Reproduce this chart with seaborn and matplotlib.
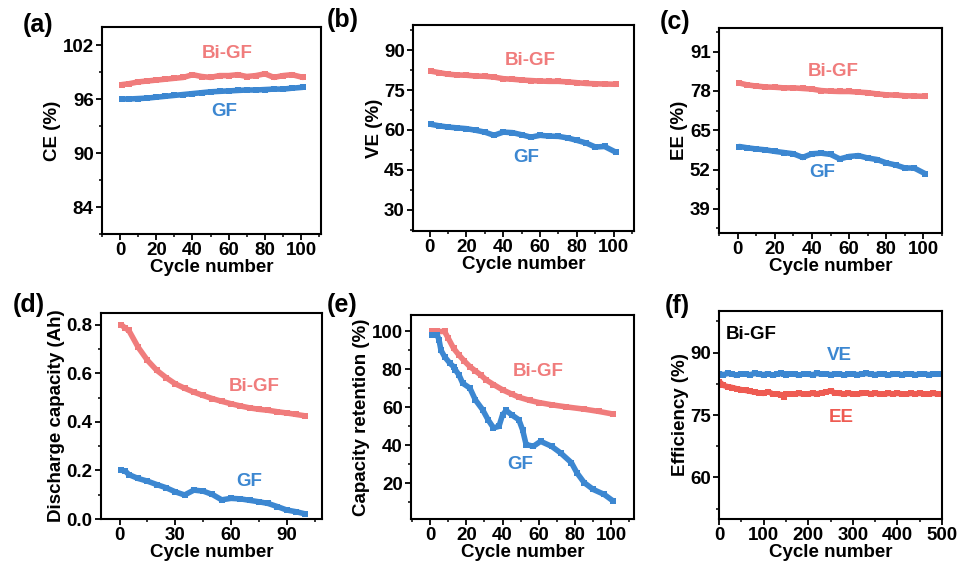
"""
Six-panel cycling performance figure (CE, VE, EE, capacity, retention, long-term efficiency)
"""
import matplotlib

matplotlib.use("Agg")
import matplotlib.pyplot as plt
from matplotlib.ticker import MultipleLocator
import seaborn as sns

sns.set_theme(style="ticks")
plt.rcParams["font.family"] = ["Liberation Sans", "DejaVu Sans"]
plt.rcParams["font.weight"] = "bold"
plt.rcParams["axes.labelweight"] = "bold"
plt.rcParams["text.color"] = "black"
plt.rcParams["axes.labelcolor"] = "black"
plt.rcParams["xtick.color"] = "black"
plt.rcParams["ytick.color"] = "black"

RED = "#F07C7C"
BLUE = "#3C87D1"
RED_F = "#EE5B52"

# --- data ---
cyc = [1, 5, 10, 15, 20, 25, 30, 35, 40, 45, 50, 55, 60, 65, 70, 75, 80, 85, 90, 95, 101]

ce_bigf = [97.6, 97.7, 97.9, 98.0, 98.1, 98.2, 98.3, 98.4, 98.7, 98.5, 98.4,
           98.6, 98.6, 98.7, 98.5, 98.6, 98.8, 98.4, 98.6, 98.7, 98.4]
ce_gf = [96.0, 96.0, 96.05, 96.1, 96.2, 96.3, 96.4, 96.5, 96.6, 96.7, 96.8,
         96.85, 96.9, 96.95, 97.0, 97.0, 97.05, 97.1, 97.1, 97.2, 97.3]

ve_bigf = [82.1, 81.6, 81.0, 80.7, 80.6, 80.3, 80.2, 79.9, 79.3, 79.1, 78.8,
           78.6, 78.4, 78.3, 78.3, 78.1, 77.8, 77.5, 77.4, 77.3, 77.2]
ve_gf = [62.1, 61.6, 61.1, 60.8, 60.5, 59.9, 59.2, 58.0, 59.2, 59.0, 58.2,
         57.3, 58.0, 57.7, 57.6, 57.0, 56.1, 55.1, 53.6, 53.8, 51.7]

ee_bigf = [80.6, 80.0, 79.6, 79.3, 79.2, 79.0, 79.0, 78.8, 78.6, 78.1, 77.9,
           77.8, 77.8, 77.6, 77.4, 77.0, 76.7, 76.6, 76.4, 76.3, 76.2]
ee_gf = [59.6, 59.2, 58.8, 58.5, 58.0, 57.6, 57.2, 56.0, 57.2, 57.4, 57.0,
         55.5, 56.3, 56.6, 55.8, 55.3, 54.2, 53.5, 52.5, 52.5, 50.6]

cyc_d = [1, 3, 5, 10, 15, 20, 25, 30, 35, 40, 45, 50, 55, 60, 65, 70, 75, 80, 85, 90, 95, 100]
cap_bigf = [0.800, 0.787, 0.777, 0.708, 0.654, 0.613, 0.583, 0.557, 0.539, 0.523, 0.509,
            0.496, 0.485, 0.475, 0.466, 0.458, 0.452, 0.448, 0.442, 0.437, 0.431, 0.425]
cap_gf = [0.201, 0.198, 0.183, 0.167, 0.156, 0.142, 0.129, 0.112, 0.099, 0.119, 0.115,
          0.101, 0.079, 0.085, 0.083, 0.077, 0.071, 0.064, 0.051, 0.037, 0.030, 0.021]

cyc_e_bigf = [1, 4, 8, 10, 13, 16, 19, 22, 25, 28, 31, 35, 40, 45, 49, 55, 60, 67, 75, 85, 93, 101]
ret_bigf = [100, 100, 100, 96.5, 91.1, 87.5, 84.3, 81.4, 79.2, 77.0, 74.4, 72.0, 69.2,
            67.0, 65.3, 63.6, 62.5, 61.3, 60.2, 59.0, 57.8, 56.4]
cyc_e_gf = [1, 4, 5, 6, 8, 11, 13, 14, 16, 18, 22, 25, 29, 32, 35, 38, 40, 42, 45, 49,
            51, 53, 57, 61, 67, 72, 78, 81, 85, 90, 96, 101]
ret_gf = [98.1, 98.1, 95.4, 90.2, 86.7, 83.2, 81.4, 79.7, 77.0, 72.7, 70.1, 63.9, 58.7,
          53.4, 49.1, 49.9, 56.0, 58.3, 56.0, 53.4, 48.2, 40.3, 39.4, 42.0, 39.4, 35.9,
          30.7, 25.4, 20.2, 16.6, 14.0, 10.5]

cyc_f = [1, 10, 20, 30, 40, 50, 60, 70, 80, 90, 100, 110, 120, 130, 140, 145, 150, 160,
         170, 180, 190, 200, 210, 220, 230, 240, 250, 260, 270, 280, 290, 300, 310, 320,
         330, 340, 350, 360, 370, 380, 390, 400, 410, 420, 430, 440, 450, 460, 470, 480,
         490, 500]
f_ve = [84.9, 84.7, 85.0, 84.8, 84.6, 84.9, 84.8, 84.7, 85.0, 84.8, 84.7, 84.9, 84.6,
        84.8, 85.0, 84.8, 84.7, 84.9, 84.8, 84.6, 84.9, 84.8, 84.7, 85.0, 84.8, 84.9,
        84.7, 84.8, 84.9, 84.6, 84.8, 84.9, 84.7, 84.8, 85.0, 84.8, 84.7, 84.9, 84.8,
        84.6, 84.8, 84.9, 84.7, 84.8, 84.9, 84.7, 84.8, 84.9, 84.7, 84.8, 84.8, 84.8]
f_ee = [83.0, 82.1, 81.8, 81.6, 81.3, 81.1, 80.9, 80.7, 80.5, 80.3, 80.2, 80.6, 80.1,
        80.0, 79.9, 79.4, 80.1, 80.0, 80.1, 80.2, 80.0, 80.1, 80.2, 80.1, 80.3, 80.5,
        80.8, 80.3, 80.2, 80.1, 80.2, 80.1, 80.0, 80.2, 80.3, 80.1, 80.2, 80.1, 80.0,
        80.2, 80.1, 80.2, 80.1, 80.0, 80.2, 80.1, 80.2, 80.1, 80.0, 80.2, 80.1, 80.1]

W, H = 960, 565
fig = plt.figure(figsize=(W / 100, H / 100), dpi=100)


def make_ax(l, r, t, b):
    ax = fig.add_axes([l / W, (H - b) / H, (r - l) / W, (b - t) / H])
    for s in ax.spines.values():
        s.set_linewidth(1.5)
        s.set_color("black")
    ax.tick_params(which="major", direction="out", length=4, width=1.3,
                   labelsize=13.5, color="black", labelcolor="black", pad=2)
    ax.tick_params(which="minor", direction="out", length=2.5, width=1.1, color="black")
    return ax


def draw(ax, x, y, color):
    sns.lineplot(x=x, y=y, ax=ax, color=color, marker="s", markersize=5,
                 markeredgewidth=0, linewidth=4)


def finish(ax, xlim, ylim, xmaj, ymaj, ylabel, yticks=None):
    ax.set_xlim(*xlim)
    ax.set_ylim(*ylim)
    ax.xaxis.set_major_locator(MultipleLocator(xmaj))
    ax.xaxis.set_minor_locator(MultipleLocator(xmaj / 2))
    if yticks is not None:
        ax.set_yticks(yticks)
    else:
        ax.yaxis.set_major_locator(MultipleLocator(ymaj))
    ax.yaxis.set_minor_locator(MultipleLocator(ymaj / 2))
    ax.set_xlabel("Cycle number", fontsize=13.5, labelpad=0, color="black")
    ax.set_ylabel(ylabel, fontsize=13.5, labelpad=1, color="black")
    for lab in ax.get_xticklabels() + ax.get_yticklabels():
        lab.set_fontweight("bold")


def note(ax, x, y, s, color, ha="center"):
    ax.text(x, y, s, color=color, fontsize=13.5, fontweight="bold", ha=ha, va="center")


# (a)
ax = make_ax(102, 321, 27, 234)
draw(ax, cyc, ce_bigf, RED)
draw(ax, cyc, ce_gf, BLUE)
finish(ax, (-10, 111), (81, 104), 20, 6, "CE (%)", [84, 90, 96, 102])
note(ax, 59, 101.1, "Bi-GF", RED)
note(ax, 57.5, 94.6, "GF", BLUE)

# (b)
ax = make_ax(413, 634, 25, 231)
draw(ax, cyc, ve_bigf, RED)
draw(ax, cyc, ve_gf, BLUE)
finish(ax, (-9, 111), (22, 99.5), 20, 15, "VE (%)", [30, 45, 60, 75, 90])
note(ax, 54.5, 86.0, "Bi-GF", RED)
note(ax, 52.7, 49.8, "GF", BLUE)

# (c)
ax = make_ax(719, 942, 28, 233)
draw(ax, cyc, ee_bigf, RED)
draw(ax, cyc, ee_gf, BLUE)
finish(ax, (-10, 110), (31, 98.8), 20, 13, "EE (%)", [39, 52, 65, 78, 91])
note(ax, 51.7, 84.4, "Bi-GF", RED)
note(ax, 45.4, 50.9, "GF", BLUE)

# (d)
ax = make_ax(101, 322, 313, 519)
draw(ax, cyc_d, cap_bigf, RED)
draw(ax, cyc_d, cap_gf, BLUE)
finish(ax, (-10, 109), (0, 0.849), 30, 0.2, "Discharge capacity (Ah)", [0.0, 0.2, 0.4, 0.6, 0.8])
note(ax, 72.6, 0.548, "Bi-GF", RED)
note(ax, 69.9, 0.153, "GF", BLUE)

# (e)
ax = make_ax(411, 634, 315, 519)
draw(ax, cyc_e_bigf, ret_bigf, RED)
draw(ax, cyc_e_gf, ret_gf, BLUE)
finish(ax, (-10.5, 112.5), (1, 108.7), 20, 20, "Capacity retention (%)", [20, 40, 60, 80, 100])
note(ax, 59.8, 79.0, "Bi-GF", RED)
note(ax, 49.7, 30.0, "GF", BLUE)

# (f)
ax = make_ax(719, 942, 311, 519)
draw(ax, cyc_f, f_ve, BLUE)
draw(ax, cyc_f, f_ee, RED_F)
finish(ax, (0, 500), (50, 100), 100, 15, "Efficiency (%)", [60, 75, 90])
note(ax, 15.7, 94.3, "Bi-GF", "black", ha="left")
note(ax, 269.7, 89.2, "VE", BLUE)
note(ax, 274, 74.5, "EE", RED_F)

# panel letters
for s, x, y in [("(a)", 37.7, 25), ("(b)", 342.7, 20), ("(c)", 675, 21.7),
                ("(d)", 29.3, 304.7), ("(e)", 341.7, 304.7), ("(f)", 677, 306)]:
    fig.text(x / W, 1 - y / H, s, fontsize=18, fontweight="bold", ha="center", va="center",
             color="black")

fig.savefig("out.png", dpi=100, facecolor="white")
